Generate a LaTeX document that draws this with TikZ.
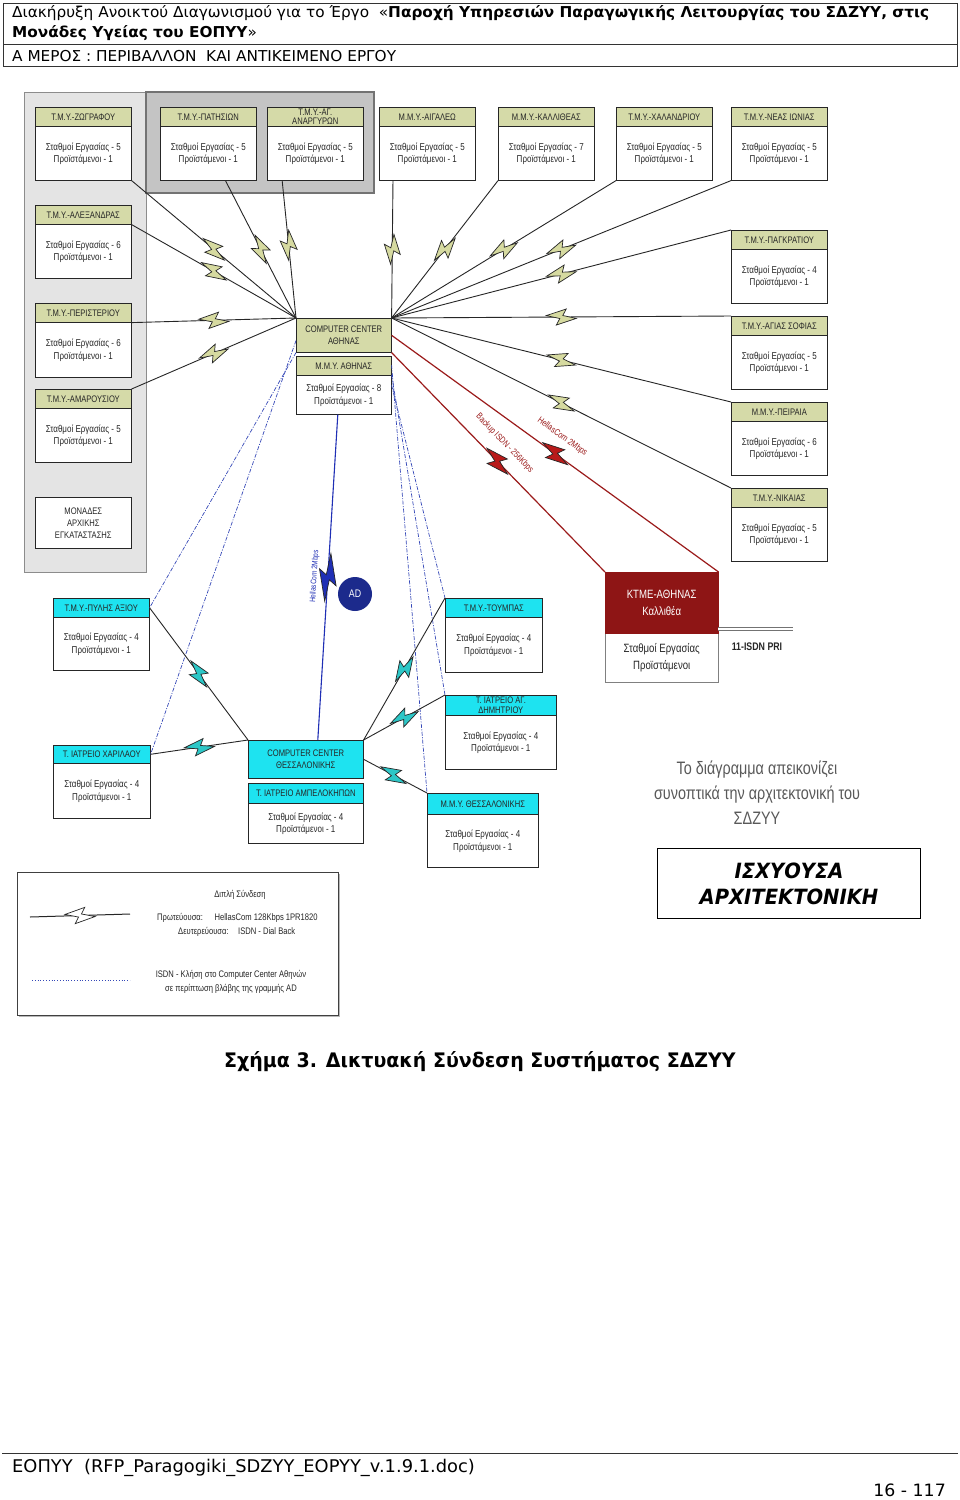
\documentclass[tikz,border=0pt]{standalone}
\usepackage{fontspec}
\setmainfont{DejaVu Sans}
\newfontfamily\hdr[FakeStretch=1.02]{DejaVu Sans}
\newfontfamily\capfont[FakeStretch=0.95]{DejaVu Sans}
\newfontfamily\dfont[FakeStretch=0.8]{Liberation Sans}
\newfontfamily\ifont[FakeStretch=0.93]{DejaVu Sans}
\usetikzlibrary{calc,shadows}
\definecolor{olivehd}{HTML}{D5DAA8}
\definecolor{cyanhd}{HTML}{1EE3F0}
\definecolor{ktred}{HTML}{8E1515}
\definecolor{linkred}{HTML}{9B1B1B}
\definecolor{boltk}{HTML}{D6DAA0}
\definecolor{boltc}{HTML}{2CC7C7}
\definecolor{boltb}{HTML}{1F2FB5}
\definecolor{boltr}{HTML}{B81A1A}
\definecolor{dashb}{HTML}{3548B8}
\definecolor{panelL}{HTML}{E4E4E4}
\definecolor{panelD}{HTML}{C4C4C4}
\definecolor{addark}{HTML}{1C2A8C}
\tikzset{
  ubody/.style={draw=black!85, line width=0.6pt, fill=white, inner sep=0pt},
  uhead/.style={draw=black!85, line width=0.6pt, inner sep=0pt, align=center, text=black!85,
    font=\dfont\fontsize{9.5}{9.5}\selectfont},
  utext/.style={inner sep=0pt, align=center, text=black!85, font=\dfont\fontsize{10}{12.5}\selectfont},
  ccbox/.style={draw=black!85, line width=0.6pt, inner sep=0pt, align=center, text=black!85,
    font=\dfont\fontsize{9.5}{12}\selectfont, anchor=north west},
  link/.style={draw=black!85, line width=0.9pt},
  redlink/.style={draw=linkred, line width=1.2pt},
  bluedash/.style={draw=dashb, line width=0.7pt, dash pattern=on 4pt off 1.5pt on 1pt off 1.5pt},
  blueline/.style={draw=boltb, line width=1.1pt},
  redtext/.style={text=linkred, inner sep=0pt, font=\dfont\fontsize{9}{10}\selectfont},
  plain/.style={inner sep=0pt},
  pics/bolt/.style={code={\filldraw[fill=#1, draw=black!85, line width=0.7pt, line join=miter, solid]
     (-15,-1.5) -- (5,-8) -- (1.5,-1.5) -- (15,1.5) -- (-5,8) -- (-1.5,1.5) -- cycle;}},
}
\newcommand\mkunit[9]{%
  \node[ubody, minimum width=#4pt, minimum height=#5pt, anchor=north west] (#1) at (#2,#3) {};
  \node[uhead, fill=#7, minimum width=#4pt, minimum height=#6pt, anchor=north west] (#1h) at (#2,#3) {#8};
  \draw[line width=1.4pt, black!85] (#1h.south west) -- (#1h.south east);
  \node[utext] (#1b) at ($(#1h.south)!0.5!(#1.south)$) {#9};
}
\begin{document}
\begin{tikzpicture}[x=1pt,y=-1pt]
\useasboundingbox (0,0) rectangle (960,1500);
\fill[white] (0,0) rectangle (960,1500);

% ---------- page header ----------
\draw[black!80, line width=1pt] (3,3) rectangle (957,66);
\draw[black!80, line width=1pt] (3,44) -- (957,44);
\node[plain, anchor=west] (h1) at (12,13) {\hdr\fontsize{15}{18}\selectfont Διακήρυξη Ανοικτού Διαγωνισμού για το Έργο\ \ «\textbf{Παροχή Υπηρεσιών Παραγωγικής Λειτουργίας του ΣΔΖΥΥ, στις}};
\node[plain, anchor=west] (h2) at (12,33) {\hdr\fontsize{15}{18}\selectfont \textbf{Μονάδες Υγείας του ΕΟΠΥΥ}»};
\node[plain, anchor=west] (h3) at (12,56) {\hdr\fontsize{15}{18}\selectfont Α ΜΕΡΟΣ : ΠΕΡΙΒΑΛΛΟΝ\ \ ΚΑΙ ΑΝΤΙΚΕΙΜΕΝΟ ΕΡΓΟΥ};

% ---------- grey panels ----------
\draw[fill=panelL, draw=black!45, line width=1pt] (24,92) rectangle (146,572);
\draw[fill=panelD, draw=black!55, line width=1.2pt] (146,92) rectangle (374,193);

% ---------- Athens units ----------
\mkunit{ZOG}{35}{107}{96}{73}{19}{olivehd}{Τ.Μ.Υ.-ΖΩΓΡΑΦΟΥ}{Σταθμοί Εργασίας - 5\\Προϊστάμενοι - 1}
\mkunit{PAT}{160}{107}{96}{73}{19}{olivehd}{Τ.Μ.Υ.-ΠΑΤΗΣΙΩΝ}{Σταθμοί Εργασίας - 5\\Προϊστάμενοι - 1}
\mkunit{ANA}{267}{107}{96}{73}{19}{olivehd}{Τ.Μ.Υ.-ΑΓ.\\ΑΝΑΡΓΥΡΩΝ}{Σταθμοί Εργασίας - 5\\Προϊστάμενοι - 1}
\mkunit{AIG}{379}{107}{96}{73}{19}{olivehd}{Μ.Μ.Υ.-ΑΙΓΑΛΕΩ}{Σταθμοί Εργασίας - 5\\Προϊστάμενοι - 1}
\mkunit{KAL}{498}{107}{96}{73}{19}{olivehd}{Μ.Μ.Υ.-ΚΑΛΛΙΘΕΑΣ}{Σταθμοί Εργασίας - 7\\Προϊστάμενοι - 1}
\mkunit{XAL}{616}{107}{96}{73}{19}{olivehd}{Τ.Μ.Υ.-ΧΑΛΑΝΔΡΙΟΥ}{Σταθμοί Εργασίας - 5\\Προϊστάμενοι - 1}
\mkunit{NIO}{731}{107}{96}{73}{19}{olivehd}{Τ.Μ.Υ.-ΝΕΑΣ ΙΩΝΙΑΣ}{Σταθμοί Εργασίας - 5\\Προϊστάμενοι - 1}

\mkunit{ALE}{35}{205}{96}{73}{19}{olivehd}{Τ.Μ.Υ.-ΑΛΕΞΑΝΔΡΑΣ}{Σταθμοί Εργασίας - 6\\Προϊστάμενοι - 1}
\mkunit{PER}{35}{303}{96}{74}{19}{olivehd}{Τ.Μ.Υ.-ΠΕΡΙΣΤΕΡΙΟΥ}{Σταθμοί Εργασίας - 6\\Προϊστάμενοι - 1}
\mkunit{AMA}{35}{389}{96}{73}{19}{olivehd}{Τ.Μ.Υ.-ΑΜΑΡΟΥΣΙΟΥ}{Σταθμοί Εργασίας - 5\\Προϊστάμενοι - 1}
\node[ubody, minimum width=96pt, minimum height=51pt, anchor=north west, align=center, text=black!85,
  font=\dfont\fontsize{9.5}{12}\selectfont] (MON) at (35,497) {ΜΟΝΑΔΕΣ\\ΑΡΧΙΚΗΣ\\ΕΓΚΑΤΑΣΤΑΣΗΣ};

\mkunit{PAG}{731}{230}{96}{73}{19}{olivehd}{Τ.Μ.Υ.-ΠΑΓΚΡΑΤΙΟΥ}{Σταθμοί Εργασίας - 4\\Προϊστάμενοι - 1}
\mkunit{SOF}{731}{316}{96}{73}{19}{olivehd}{Τ.Μ.Υ.-ΑΓΙΑΣ ΣΟΦΙΑΣ}{Σταθμοί Εργασίας - 5\\Προϊστάμενοι - 1}
\mkunit{PEI}{731}{402}{96}{73}{19}{olivehd}{Μ.Μ.Υ.-ΠΕΙΡΑΙΑ}{Σταθμοί Εργασίας - 6\\Προϊστάμενοι - 1}
\mkunit{NIK}{731}{488}{96}{73}{19}{olivehd}{Τ.Μ.Υ.-ΝΙΚΑΙΑΣ}{Σταθμοί Εργασίας - 5\\Προϊστάμενοι - 1}

\node[ccbox, fill=olivehd, minimum width=95pt, minimum height=34pt] (CCA) at (296,318) {COMPUTER CENTER\\ΑΘΗΝΑΣ};
\mkunit{MMA}{296}{356}{95}{58}{19}{olivehd}{Μ.Μ.Υ. ΑΘΗΝΑΣ}{Σταθμοί Εργασίας - 8\\Προϊστάμενοι - 1}

% ---------- KTME ----------
\node[draw=black!50, line width=0.6pt, fill=white, minimum width=113pt, minimum height=110pt, anchor=north west, inner sep=0pt] (KT) at (605,572) {};
\node[fill=ktred, draw=ktred, minimum width=113pt, minimum height=61pt, anchor=north west, inner sep=0pt,
  text=white, align=center, font=\dfont\fontsize{12}{17}\selectfont] (KTh) at (605,572) {ΚΤΜΕ-ΑΘΗΝΑΣ\\Καλλιθέα};
\node[plain, align=center, text=black!85, font=\dfont\fontsize{12}{17}\selectfont] (KTb) at ($(KTh.south)!0.5!(KT.south)$) {Σταθμοί Εργασίας\\Προϊστάμενοι};
\coordinate (isdn) at (793,629);
\draw[draw=black!55, line width=0.9pt, double=white, double distance=2.4pt] (KTh.east |- isdn) -- (isdn);
\node[plain, text=black!85, font=\dfont\bfseries\fontsize{11}{12}\selectfont] (isdnl) at (757,647) {11-ISDN PRI};

% ---------- Thessaloniki units ----------
\mkunit{PYL}{53}{598}{96}{72}{19}{cyanhd}{Τ.Μ.Υ.-ΠΥΛΗΣ ΑΞΙΟΥ}{Σταθμοί Εργασίας - 4\\Προϊστάμενοι - 1}
\mkunit{XAR}{53}{745}{97}{73}{18}{cyanhd}{Τ. ΙΑΤΡΕΙΟ ΧΑΡΙΛΑΟΥ}{Σταθμοί Εργασίας - 4\\Προϊστάμενοι - 1}
\node[ccbox, fill=cyanhd, minimum width=115pt, minimum height=38pt] (CCT) at (248,740) {COMPUTER CENTER\\ΘΕΣΣΑΛΟΝΙΚΗΣ};
\mkunit{AMP}{248}{783}{115}{60}{20}{cyanhd}{Τ. ΙΑΤΡΕΙΟ ΑΜΠΕΛΟΚΗΠΩΝ}{Σταθμοί Εργασίας - 4\\Προϊστάμενοι - 1}
\mkunit{TOU}{445}{598}{97}{74}{19}{cyanhd}{Τ.Μ.Υ.-ΤΟΥΜΠΑΣ}{Σταθμοί Εργασίας - 4\\Προϊστάμενοι - 1}
\mkunit{DIM}{445}{695}{111}{74}{20}{cyanhd}{Τ. ΙΑΤΡΕΙΟ ΑΓ.\\ΔΗΜΗΤΡΙΟΥ}{Σταθμοί Εργασίας - 4\\Προϊστάμενοι - 1}
\mkunit{MTH}{427}{793}{111}{74}{21}{cyanhd}{Μ.Μ.Υ. ΘΕΣΣΑΛΟΝΙΚΗΣ}{Σταθμοί Εργασίας - 4\\Προϊστάμενοι - 1}

\node[circle, fill=addark, minimum size=34pt, inner sep=0pt, text=white, font=\dfont\fontsize{11}{12}\selectfont] (AD) at (355,594) {AD};

% ---------- Athens links ----------
\draw[link] (ZOG.south east) -- (CCA.north west) pic[pos=.5, sloped]{bolt=boltk};
\draw[link] (PAT.-65) -- (CCA.north west) pic[pos=.5, sloped]{bolt=boltk};
\draw[link] (ANA.-132) -- (CCA.north west) pic[pos=.47, sloped]{bolt=boltk};
\draw[link] (ALEh.south east) -- (CCA.north west) pic[pos=.5, sloped]{bolt=boltk};
\draw[link] (PERh.south east) -- (CCA.north west) pic[pos=.5, sloped]{bolt=boltk};
\draw[link] (AMA.north east) -- (CCA.north west) pic[pos=.5, sloped]{bolt=boltk};

\draw[link] (AIG.-133) -- (CCA.north east) pic[pos=.5, sloped]{bolt=boltk};
\draw[link] (KAL.south west) -- (CCA.north east) pic[pos=.5, sloped]{bolt=boltk};
\draw[link] (XAL.south west) -- (CCA.north east) pic[pos=.5, sloped]{bolt=boltk};
\draw[link] (NIO.south west) -- (CCA.north east) pic[pos=.5, sloped]{bolt=boltk};
\draw[link] (PAG.north west) -- (CCA.north east) pic[pos=.5, sloped]{bolt=boltk};
\draw[link] (SOF.north west) -- (CCA.north east) pic[pos=.5, sloped]{bolt=boltk};
\draw[link] (PEI.north west) -- (CCA.north east) pic[pos=.5, sloped]{bolt=boltk};
\draw[link] (NIK.north west) -- (CCA.north east) pic[pos=.5, sloped]{bolt=boltk};

% ---------- red links to KTME ----------
\draw[redlink] (CCA.south east) -- (KT.north west)
  pic[pos=.495, sloped, scale=1.1]{bolt=boltr}
  node[redtext, pos=.47, sloped, above=13pt] (rt1) {Backup ISDN - 256Kbps};
\draw[redlink] (CCA.east) -- (KT.north east)
  pic[pos=.5, sloped, scale=1.1]{bolt=boltr}
  node[redtext, pos=.49, sloped, above=13pt] (rt2) {HellasCom 2Mbps};

% ---------- blue dashed links ----------
\draw[bluedash] (CCA.south west) -- (PYLh.east);
\draw[bluedash] ($(CCA.south west)+(0,-12)$) -- (XARh.east);
\draw[bluedash] (MMA.23) -- (MTH.north west);
\draw[bluedash] (MMA.12) -- (DIM.north west);
\draw[bluedash] (MMA.east) -- (TOU.north west);

% ---------- Athens - Thessaloniki main link ----------
\draw[blueline] ($(CCT.north)+(12,0)$) -- ($(MMA.south)+(-6,0)$)
  pic[pos=.5, sloped, xscale=1.6, yscale=1.1]{bolt=boltb}
  node[pos=.5, sloped, above=9pt, inner sep=0pt, text=boltb, font=\dfont\fontsize{8}{9}\selectfont] (bt) {HellasCom 2Mbps};

% ---------- Thessaloniki links ----------
\draw[link] (PYLh.east) -- (CCT.north west) pic[pos=.5, sloped]{bolt=boltc};
\draw[link] (XARh.east) -- (CCT.north west) pic[pos=.5, sloped]{bolt=boltc};
\draw[link] (CCT.north east) -- (TOU.north west) pic[pos=.5, sloped]{bolt=boltc};
\draw[link] (CCT.north east) -- (DIM.north west) pic[pos=.5, sloped]{bolt=boltc};
\draw[link] (CCT.east) -- (MTH.north west) pic[pos=.47, sloped]{bolt=boltc};

% ---------- description ----------
\node[plain, align=center, text=black!65, font=\dfont\fontsize{18}{25}\selectfont] (desc) at (757,793)
  {Το διάγραμμα απεικονίζει\\συνοπτικά την αρχιτεκτονική του\\ΣΔΖΥΥ};
\node[draw=black, line width=1pt, minimum width=263pt, minimum height=70pt, anchor=north west, inner sep=0pt] (IAb) at (657,848) {};
\node[plain, align=center, font=\ifont\bfseries\itshape\fontsize{21}{26}\selectfont] (IA) at (IAb.center) {ΙΣΧΥΟΥΣΑ\\ΑΡΧΙΤΕΚΤΟΝΙΚΗ};

% ---------- legend ----------
\node[draw=black!75, line width=0.8pt, fill=white, minimum width=321pt, minimum height=143pt, anchor=north west, inner sep=0pt,
  drop shadow={shadow xshift=1.5pt, shadow yshift=-1.5pt, fill=black!55}] (LG) at (17,872) {};
\coordinate (lg1) at (30,917);
\coordinate (lg2) at (130,914);
\draw[link, line width=1pt] (lg1) -- (lg2) pic[pos=.5, sloped]{bolt=white};
\coordinate (lg3) at (32,980);
\coordinate (lg4) at (130,980);
\draw[dashb, line width=0.8pt, dotted] (lg3) -- (lg4);
\node[plain, text=black!85, font=\dfont\fontsize{9.5}{10}\selectfont] (lgt1) at (240,895) {Διπλή Σύνδεση};
\node[plain, text=black!85, font=\dfont\fontsize{9.5}{10}\selectfont, anchor=west] (lgt2) at (157,918) {Πρωτεύουσα:\quad\ HellasCom 128Kbps 1PR1820};
\node[plain, text=black!85, font=\dfont\fontsize{9.5}{10}\selectfont, anchor=west] (lgt3) at (178,932) {Δευτερεύουσα:\quad ISDN - Dial Back};
\node[plain, align=center, text=black!85, font=\dfont\fontsize{9.5}{14}\selectfont] (lgt4) at (231,982)
  {ISDN - Κλήση στο Computer Center Αθηνών\\σε περίπτωση βλάβης της γραμμής AD};

% ---------- caption & footer ----------
\node[plain] (cap) at (480,1062) {\capfont\bfseries\fontsize{20}{24}\selectfont Σχήμα 3. Δικτυακή Σύνδεση Συστήματος ΣΔΖΥΥ};
\draw[black!80, line width=1pt] (2,1453) -- (958,1453);
\node[plain, anchor=west] (ft1) at (12,1468) {\hdr\fontsize{17.5}{20}\selectfont ΕΟΠΥΥ\ \ (RFP\_Paragogiki\_SDZYY\_EOPYY\_v.1.9.1.doc)};
\node[plain, anchor=east] (ft2) at (946,1490) {\hdr\fontsize{17}{20}\selectfont 16 - 117};
\end{tikzpicture}
\end{document}
